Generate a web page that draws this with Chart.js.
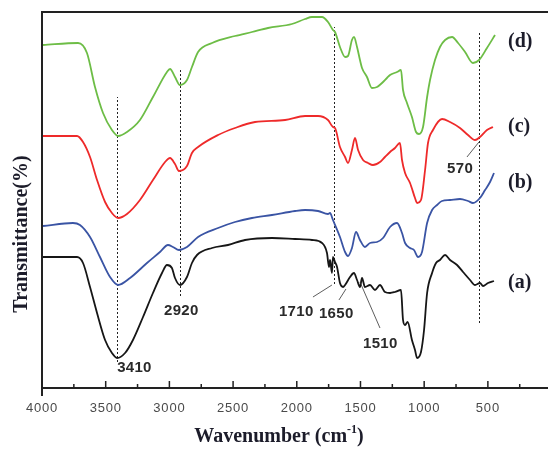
<!DOCTYPE html>
<html lang="en">
<head>
    <meta charset="UTF-8">
    <title>FTIR spectra</title>
    <script src="https://cdn.jsdelivr.net/npm/chart.js"></script>
    <style>
        body {
            margin: 0;
            background-color: #ffffff;
        }
        #ftirChart {
            display: block;
        }
    </style>
</head>
<body>
    <canvas id="ftirChart" width="548" height="449"></canvas>
    <script>
        // Spectrum (a)
        const aWave = [3992,3725,3678,3623,3568,3505,3451,3411,3348,3286,3207,3129,3058,3019,2980,2956,2917,2862,2823,2783,2665,2540,2406,2195,2014,1881,1802,1763,1747,1739,1724,1716,1700,1684,1661,1637,1621,1582,1551,1527,1504,1488,1465,1425,1386,1347,1308,1268,1229,1182,1166,1150,1130,1096,1072,1056,1025,1001,977,938,907,876,836,797,742,695,640,601,562,538,499,452];
        const aTrans = [131,131,125,101,75,48,35,30,35,48,71,95,115,123,120,110,103,111,125,133,140,143,148,150,149,148,145,135,121,128,115,131,126,121,105,101,103,111,115,108,101,110,101,103,98,103,96,95,96,98,68,63,66,48,38,30,36,58,95,115,125,128,133,128,123,116,108,103,105,102,105,107];

        // Spectrum (b)
        const bWave = [3992,3757,3702,3623,3545,3466,3403,3309,3176,3074,3011,2972,2925,2862,2775,2618,2485,2352,2195,2014,1935,1833,1755,1739,1716,1661,1621,1598,1567,1535,1504,1465,1425,1370,1323,1268,1213,1174,1150,1111,1080,1048,1017,977,938,899,860,797,719,656,617,562,522,483,452];
        const bTrans = [162,165,163,151,131,111,103,110,125,136,143,141,138,141,151,160,166,170,173,177,178,177,174,175,168,151,136,132,140,156,148,141,145,146,150,161,165,155,145,140,138,131,136,165,178,183,187,188,189,187,185,190,198,206,215];

        // Spectrum (c)
        const cWave = [3992,3725,3678,3623,3568,3505,3451,3403,3333,3231,3129,3034,2995,2956,2925,2862,2823,2775,2618,2485,2328,2092,1935,1833,1755,1716,1700,1661,1621,1598,1567,1543,1519,1480,1441,1402,1347,1308,1268,1229,1190,1174,1150,1111,1072,1056,1025,993,970,931,860,797,719,656,601,562,507,460];
        const cTrans = [252,252,246,231,208,186,175,170,174,188,208,226,230,224,217,222,235,241,253,260,266,268,272,272,268,261,260,241,231,225,238,250,238,228,225,223,226,231,236,240,245,228,215,205,190,185,188,218,245,258,269,266,260,253,248,251,258,261];

        // Spectrum (d)
        const dWave = [3992,3717,3647,3584,3521,3451,3403,3333,3231,3129,3019,2995,2956,2917,2862,2823,2775,2665,2485,2352,2226,2038,1935,1881,1802,1755,1716,1700,1661,1621,1598,1567,1551,1527,1504,1488,1449,1410,1370,1331,1292,1268,1213,1182,1166,1135,1096,1064,1041,1009,977,954,915,876,836,781,734,679,617,569,507,444];
        const dTrans = [343,345,335,301,275,258,252,256,268,291,316,319,311,303,308,321,336,345,352,356,360,364,369,371,371,366,358,356,341,331,332,348,351,341,328,320,311,300,301,305,310,313,316,318,298,285,271,256,254,261,291,308,328,341,348,351,345,336,325,328,340,353];

        const seriesNames = ['(a)', '(b)', '(c)', '(d)'];
        const majorTicks = [4000, 3500, 3000, 2500, 2000, 1500, 1000, 500];
        const minorTicks = [3750, 3250, 2750, 2250, 1750, 1250, 750, 250];
        const peakMarks = [3410, 2920, 1710, 570];
        const peakNames = ['3410', '2920', '1710', '1650', '1510', '570'];

        function toPoints(wave, trans) {
            return wave.map((w, i) => ({ x: w, y: trans[i] }));
        }

        // extents of the dotted guide lines (y in the chart's units)
        const guideSpans = [[26, 291], [92, 319], [104, 361], [65, 357]];
        // where peak labels sit, and their leader lines
        const peakLabelPos = [[3410, 20], [3042, 77], [2140, 76], [1826, 74], [1480, 44], [820, 219]];
        const leaders = [
            [1873, 91, 1724, 103],
            [1669, 88, 1614, 99],
            [1347, 60, 1504, 106],
            [664, 231, 570, 246]
        ];
        const seriesLabelPos = [[342, 105], [342, 205], [342, 261], [342, 346]];

        const decor = {
            id: 'decor',
            beforeDatasetsDraw(chart) {
                const { ctx, scales: { x, y } } = chart;
                ctx.save();
                ctx.strokeStyle = '#222';
                ctx.lineWidth = 1;
                ctx.setLineDash([2, 2]);
                peakMarks.forEach((w, i) => {
                    const px = Math.round(x.getPixelForValue(w)) + 0.5;
                    ctx.beginPath();
                    ctx.moveTo(px, y.getPixelForValue(guideSpans[i][0]));
                    ctx.lineTo(px, y.getPixelForValue(guideSpans[i][1]));
                    ctx.stroke();
                });
                ctx.restore();
            },
            afterDatasetsDraw(chart) {
                const { ctx, chartArea: area, scales: { x, y } } = chart;
                ctx.save();

                // frame
                ctx.strokeStyle = '#222';
                ctx.lineWidth = 2;
                ctx.beginPath();
                ctx.moveTo(area.right, area.top);
                ctx.lineTo(area.left, area.top);
                ctx.lineTo(area.left, area.bottom + 8);
                ctx.moveTo(area.left, area.bottom);
                ctx.lineTo(area.right, area.bottom);
                ctx.stroke();

                // inside ticks
                ctx.lineWidth = 1.5;
                ctx.beginPath();
                majorTicks.forEach(w => {
                    const px = x.getPixelForValue(w);
                    ctx.moveTo(px, area.bottom);
                    ctx.lineTo(px, area.bottom - 7);
                });
                minorTicks.forEach(w => {
                    const px = x.getPixelForValue(w);
                    ctx.moveTo(px, area.bottom);
                    ctx.lineTo(px, area.bottom - 4);
                });
                ctx.stroke();

                // tick labels
                ctx.fillStyle = '#4a4a4a';
                ctx.font = '13px "Liberation Sans", Arial, sans-serif';
                ctx.letterSpacing = '0.8px';
                ctx.textAlign = 'center';
                ctx.textBaseline = 'middle';
                majorTicks.forEach(w => {
                    ctx.fillText(String(w), x.getPixelForValue(w), area.bottom + 20);
                });

                // peak labels and leaders
                ctx.fillStyle = '#2a2a2a';
                ctx.font = 'bold 15px "Liberation Sans", Arial, sans-serif';
                ctx.letterSpacing = '0.3px';
                ctx.textAlign = 'left';
                peakNames.forEach((t, i) => {
                    ctx.fillText(t, x.getPixelForValue(peakLabelPos[i][0]), y.getPixelForValue(peakLabelPos[i][1]));
                });
                ctx.strokeStyle = '#333';
                ctx.lineWidth = 0.8;
                ctx.beginPath();
                leaders.forEach(l => {
                    ctx.moveTo(x.getPixelForValue(l[0]), y.getPixelForValue(l[1]));
                    ctx.lineTo(x.getPixelForValue(l[2]), y.getPixelForValue(l[3]));
                });
                ctx.stroke();

                // series labels
                ctx.letterSpacing = '0px';
                ctx.fillStyle = '#1c1c2a';
                ctx.font = 'bold 20px "Liberation Serif", "Times New Roman", serif';
                seriesNames.forEach((t, i) => {
                    ctx.fillText(t, x.getPixelForValue(seriesLabelPos[i][0]), y.getPixelForValue(seriesLabelPos[i][1]));
                });

                // y title
                ctx.save();
                ctx.translate(22, 234);
                ctx.rotate(-Math.PI / 2);
                ctx.textAlign = 'center';
                ctx.fillText('Transmittance(%)', 0, 0);
                ctx.restore();

                // x title with superscript
                const main = 'Wavenumber (cm';
                const sup = '-1';
                const tail = ')';
                ctx.font = 'bold 20px "Liberation Serif", "Times New Roman", serif';
                const w1 = ctx.measureText(main).width;
                const w3 = ctx.measureText(tail).width;
                ctx.font = 'bold 12px "Liberation Serif", "Times New Roman", serif';
                const w2 = ctx.measureText(sup).width;
                let sx = 279 - (w1 + w2 + w3) / 2;
                ctx.textAlign = 'left';
                ctx.font = 'bold 20px "Liberation Serif", "Times New Roman", serif';
                ctx.fillText(main, sx, 437);
                ctx.font = 'bold 12px "Liberation Serif", "Times New Roman", serif';
                ctx.fillText(sup, sx + w1, 430);
                ctx.font = 'bold 20px "Liberation Serif", "Times New Roman", serif';
                ctx.fillText(tail, sx + w1 + w2, 437);

                ctx.restore();
            }
        };

        function makeSet(wave, trans, color) {
            return {
                data: toPoints(wave, trans),
                borderColor: color,
                borderWidth: 1.8,
                pointRadius: 0,
                fill: false,
                cubicInterpolationMode: 'monotone'
            };
        }

        const chart = new Chart(document.getElementById('ftirChart'), {
            type: 'line',
            data: {
                datasets: [
                    makeSet(aWave, aTrans, '#161616'),
                    makeSet(bWave, bTrans, '#3a54a4'),
                    makeSet(cWave, cTrans, '#ee2a2a'),
                    makeSet(dWave, dTrans, '#6dbd46')
                ]
            },
            options: {
                responsive: false,
                animation: false,
                layout: {
                    padding: { left: 42, top: 12, right: 0, bottom: 61 }
                },
                scales: {
                    x: { type: 'linear', reverse: true, min: 28, max: 4000, display: false },
                    y: { min: 0, max: 376, display: false }
                },
                plugins: {
                    legend: { display: false },
                    tooltip: { enabled: false }
                }
            },
            plugins: [decor]
        });
    </script>
</body>
</html>
